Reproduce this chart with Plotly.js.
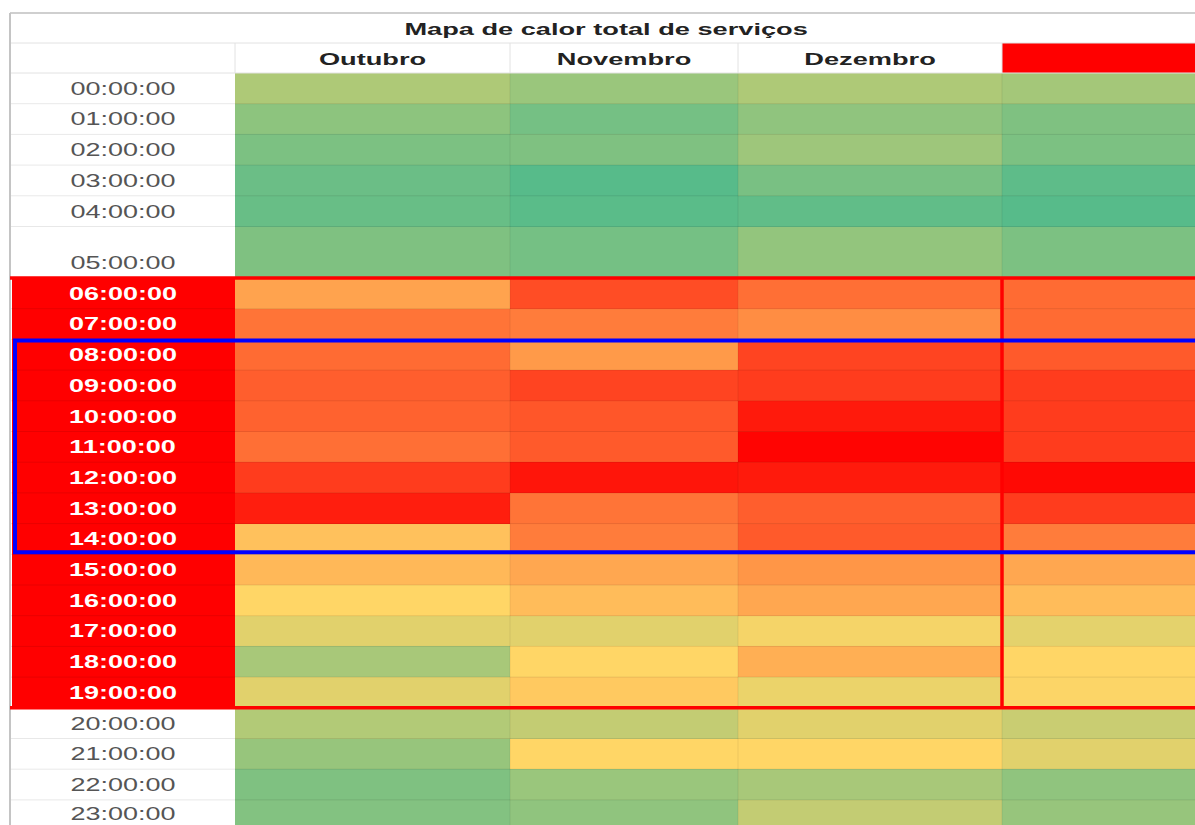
<!DOCTYPE html>
<html>
<head>
<meta charset="utf-8">
<script src="https://cdn.plot.ly/plotly-3.0.1.min.js"></script>
<style>
  html, body { margin: 0; padding: 0; background: #fff; }
  #chart { width: 1195px; height: 825px; }
</style>
</head>
<body>
<div id="chart"></div>
<script>
// ---------------- DATA ----------------
const title = 'Mapa de calor total de serviços';
const months = ['Outubro', 'Novembro', 'Dezembro', ''];
const hours = ['00:00:00','01:00:00','02:00:00','03:00:00','04:00:00','05:00:00',
  '06:00:00','07:00:00','08:00:00','09:00:00','10:00:00','11:00:00','12:00:00',
  '13:00:00','14:00:00','15:00:00','16:00:00','17:00:00','18:00:00','19:00:00',
  '20:00:00','21:00:00','22:00:00','23:00:00'];
const outubro  = [26,16,11, 6, 5,12,62,73,75,78,77,74,86,93,55,57,50,41,24,41,27,19,12,13];
const novembro = [20, 9,12, 0, 1, 9,82,71,64,84,80,79,95,73,71,61,56,41,50,53,32,50,20,17];
const dezembro = [26,17,21,10, 3,18,74,67,84,86,94,99,94,78,79,65,61,47,59,44,41,50,24,32];
const quarto   = [23,12,11, 2, 0,11,75,75,79,86,86,86,98,86,71,61,56,42,50,49,34,41,17,19];
const peakStart = 6, peakEnd = 19;     // red-highlighted hours
const focusStart = 8, focusEnd = 14;   // blue-framed hours

// ---------------- LAYOUT (sheet geometry) ----------------
const W = 1195, H = 825;
const SHEET_LEFT = 10, SHEET_TOP = 13;
const TITLE_H = 30, HEADER_H = 30;
const LABEL_RIGHT = 235;
const COL_WIDTHS = [275, 228, 264, 200];
const ROW_H = 30.7, TALL_ROW = 5, TALL_H = 51.5;
const TEXT_OFFSET = 15;

const colEdges = [LABEL_RIGHT];
COL_WIDTHS.forEach(w => colEdges.push(colEdges[colEdges.length - 1] + w));
const headerTop = SHEET_TOP + TITLE_H;
const dataTop = headerTop + HEADER_H;
const rowEdges = [dataTop];
hours.forEach((h, i) => rowEdges.push(rowEdges[i] + (i === TALL_ROW ? TALL_H : ROW_H)));

const z = hours.map((h, i) => [outubro[i], novembro[i], dezembro[i], quarto[i]]);

const heat = {
  type: 'heatmap',
  x: colEdges,
  y: rowEdges,
  z: z,
  zmin: 0, zmax: 100,
  colorscale: [[0, '#57bb8a'], [0.5, '#ffd666'], [1, '#ff0000']],
  showscale: false,
  hoverinfo: 'skip'
};

const FONT = '"Liberation Sans", Arial, sans-serif';
const shapes = [];
const annotations = [];

// red label column for peak hours
shapes.push({type: 'rect', xref: 'x', yref: 'y', x0: SHEET_LEFT + 2, x1: LABEL_RIGHT,
  y0: rowEdges[peakStart], y1: rowEdges[peakEnd + 1], fillcolor: '#ff0000', line: {width: 0}, layer: 'below'});
// red header cell of 4th column
shapes.push({type: 'rect', xref: 'x', yref: 'y', x0: colEdges[3], x1: colEdges[4],
  y0: headerTop, y1: dataTop, fillcolor: '#ff0000', line: {width: 0}, layer: 'below'});

// row separators
rowEdges.forEach((y, i) => {
  if (i === 0) return;
  shapes.push({type: 'line', xref: 'x', yref: 'y', x0: SHEET_LEFT, x1: W, y0: y, y1: y,
    line: {color: 'rgba(0,0,0,0.09)', width: 1}});
});
// column separators
colEdges.slice(1, 4).forEach(x => {
  shapes.push({type: 'line', xref: 'x', yref: 'y', x0: x, x1: x, y0: dataTop, y1: H,
    line: {color: 'rgba(0,0,0,0.07)', width: 1}});
  shapes.push({type: 'line', xref: 'x', yref: 'y', x0: x, x1: x, y0: headerTop, y1: dataTop,
    line: {color: '#e2e2e2', width: 1}});
});
shapes.push({type: 'line', xref: 'x', yref: 'y', x0: LABEL_RIGHT, x1: LABEL_RIGHT, y0: headerTop, y1: dataTop,
  line: {color: '#e2e2e2', width: 1}});
// header lines
[headerTop, dataTop].forEach(y => shapes.push({type: 'line', xref: 'x', yref: 'y', x0: SHEET_LEFT, x1: W, y0: y, y1: y,
  line: {color: '#e2e2e2', width: 1}}));
// sheet borders
shapes.push({type: 'line', xref: 'x', yref: 'y', x0: SHEET_LEFT, x1: W, y0: SHEET_TOP, y1: SHEET_TOP,
  line: {color: '#cfcfcf', width: 2}});
shapes.push({type: 'line', xref: 'x', yref: 'y', x0: SHEET_LEFT, x1: SHEET_LEFT, y0: SHEET_TOP, y1: H,
  line: {color: '#c4c4c4', width: 2}});

// red peak frame
const pTop = rowEdges[peakStart], pBot = rowEdges[peakEnd + 1];
shapes.push({type: 'line', xref: 'x', yref: 'y', x0: SHEET_LEFT, x1: W, y0: pTop, y1: pTop, line: {color: '#ff0000', width: 3.5}});
shapes.push({type: 'line', xref: 'x', yref: 'y', x0: SHEET_LEFT, x1: W, y0: pBot, y1: pBot, line: {color: '#ff0000', width: 3.5}});
shapes.push({type: 'line', xref: 'x', yref: 'y', x0: colEdges[3], x1: colEdges[3], y0: pTop, y1: pBot, line: {color: '#ff0000', width: 3.5}});
// blue focus frame
shapes.push({type: 'rect', xref: 'x', yref: 'y', x0: SHEET_LEFT + 5, x1: W + 20,
  y0: rowEdges[focusStart] + 1, y1: rowEdges[focusEnd + 1] - 2,
  line: {color: '#0000ff', width: 4}, fillcolor: 'rgba(0,0,0,0)'});

// texts
annotations.push({x: 606, y: headerTop - 14, xref: 'x', yref: 'y', text: title, showarrow: false,
  font: {family: FONT, size: 17, color: '#222', weight: 'bold'}, xanchor: 'center', yanchor: 'middle'});
months.forEach((m, j) => {
  if (!m) return;
  annotations.push({x: (colEdges[j] + colEdges[j + 1]) / 2, y: dataTop - 14, xref: 'x', yref: 'y',
    text: m, showarrow: false, font: {family: FONT, size: 17, color: '#222', weight: 'bold'},
    xanchor: 'center', yanchor: 'middle'});
});
hours.forEach((h, i) => {
  const peak = i >= peakStart && i <= peakEnd;
  annotations.push({x: (SHEET_LEFT + LABEL_RIGHT) / 2, y: Math.min(rowEdges[i + 1] - TEXT_OFFSET, H - 11), xref: 'x', yref: 'y',
    text: h, showarrow: false,
    font: {family: FONT, size: 18, color: peak ? '#ffffff' : '#555555', weight: peak ? 'bold' : 'normal'},
    xanchor: 'center', yanchor: 'middle'});
});

const layout = {
  width: W, height: H,
  margin: {l: 0, r: 0, t: 0, b: 0, pad: 0},
  paper_bgcolor: '#ffffff', plot_bgcolor: '#ffffff',
  xaxis: {range: [0, W], visible: false, fixedrange: true},
  yaxis: {range: [H, 0], visible: false, fixedrange: true},
  shapes: shapes,
  annotations: annotations,
  showlegend: false
};

Plotly.newPlot('chart', [heat], layout, {displayModeBar: false, staticPlot: true}).then(() => {
  // the reference screenshot is horizontally stretched: widen glyphs to match
  document.querySelectorAll('#chart text.annotation-text').forEach(el => {
    const t = el.textContent;
    const s = /\d\d:\d\d/.test(t) ? 1.5 : 1.6;
    const bb = el.getBBox();
    const cx = bb.x + bb.width / 2;
    const prev = el.getAttribute('transform') || '';
    el.setAttribute('transform', prev + ` translate(${cx},0) scale(${s},1) translate(${-cx},0)`);
  });
});
</script>
</body>
</html>
